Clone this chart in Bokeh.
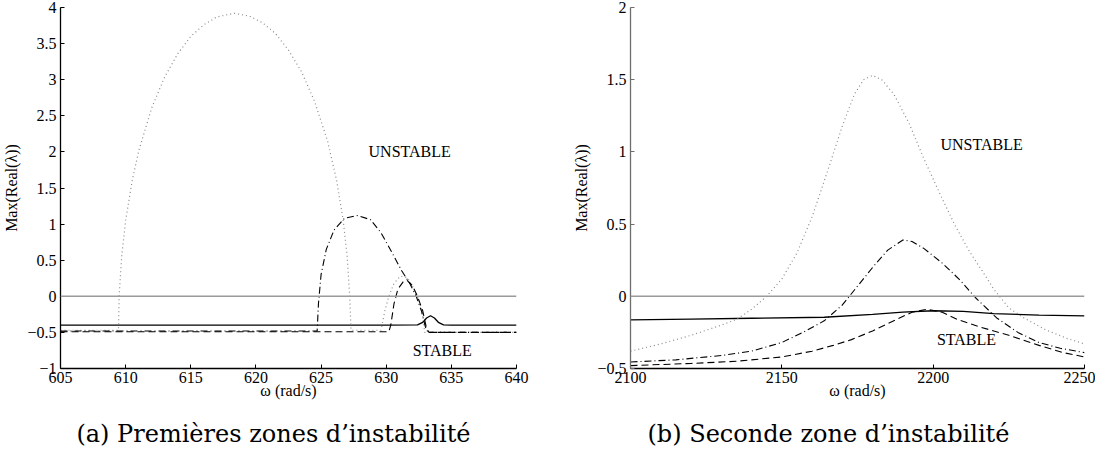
from bokeh.plotting import figure
from bokeh.models import FixedTicker, Label, Span
from bokeh.layouts import row, column
from bokeh.embed import file_html
from bokeh.resources import INLINE

# ---------------- data: panel (a) ----------------
a_solid_x = [605, 610, 615, 620, 625, 630, 632.4, 632.8, 633.1, 633.4, 633.7, 634.0, 634.4, 635, 640]
a_solid_y = [-0.40, -0.40, -0.40, -0.40, -0.40, -0.40, -0.395, -0.36, -0.30, -0.27, -0.30, -0.36, -0.395, -0.40, -0.40]

a_dot_x = [605, 609.45, 609.5, 609.7, 610.0, 610.5, 611, 612, 613, 614, 615, 616, 617, 618.35,
           619.5, 620.5, 621.5, 622.5, 623.5, 624.5, 625.5, 626.2, 626.7, 627.0, 627.2, 627.3,
           629.6, 629.9, 630.2, 630.6, 631.1, 631.6, 632.1, 632.5, 632.8, 632.95, 640]
a_dot_y = [-0.47, -0.47, 0.0, 0.56, 1.05, 1.60, 2.01, 2.61, 3.04, 3.36, 3.60, 3.76, 3.87, 3.92,
           3.88, 3.79, 3.64, 3.41, 3.11, 2.70, 2.15, 1.60, 1.05, 0.56, 0.0, -0.47,
           -0.47, -0.2, 0.0, 0.18, 0.28, 0.26, 0.12, -0.05, -0.25, -0.5, -0.5]

a_dashdot_x = [605, 624.7, 624.8, 625.0, 625.4, 626.0, 626.8, 627.8, 628.8, 629.6, 630.4, 631.2,
               631.8, 632.3, 632.7, 633.0, 633.2, 640]
a_dashdot_y = [-0.48, -0.48, -0.1, 0.3, 0.65, 0.92, 1.08, 1.12, 1.06, 0.88, 0.62, 0.35,
               0.18, 0.0, -0.2, -0.42, -0.5, -0.5]

a_dash_x = [605, 630.2, 630.35, 630.6, 630.9, 631.3, 631.6, 632.0, 632.4, 632.8, 633.1, 633.3, 640]
a_dash_y = [-0.49, -0.49, -0.4, -0.1, 0.1, 0.2, 0.22, 0.15, 0.0, -0.2, -0.45, -0.5, -0.5]

a_xticks = [605, 610, 615, 620, 625, 630, 635, 640]
a_yticks = [-1, -0.5, 0, 0.5, 1, 1.5, 2, 2.5, 3, 3.5, 4]

# ---------------- data: panel (b) ----------------
b_solid_x = [2100, 2120, 2140, 2164, 2180, 2190, 2200, 2210, 2220, 2235, 2250]
b_solid_y = [-0.163, -0.158, -0.152, -0.145, -0.125, -0.11, -0.10, -0.105, -0.12, -0.13, -0.135]

b_dot_x = [2100, 2110, 2120, 2130, 2135, 2140, 2145, 2150, 2155, 2160, 2165, 2170, 2174, 2177,
           2180, 2183, 2187, 2192, 2197, 2202, 2207, 2212, 2217, 2220, 2225, 2230, 2237, 2244, 2250]
b_dot_y = [-0.38, -0.33, -0.27, -0.20, -0.16, -0.09, 0.0, 0.12, 0.30, 0.55, 0.86, 1.18, 1.40, 1.50,
           1.53, 1.50, 1.40, 1.20, 0.95, 0.72, 0.50, 0.31, 0.15, 0.05, -0.08, -0.15, -0.23, -0.29, -0.33]

b_dashdot_x = [2100, 2115, 2130, 2140, 2150, 2157, 2164, 2170, 2175, 2180, 2185, 2190, 2193, 2197,
               2203, 2209, 2214, 2221, 2228, 2235, 2242, 2250]
b_dashdot_y = [-0.455, -0.44, -0.41, -0.38, -0.32, -0.25, -0.17, -0.06, 0.07, 0.20, 0.32, 0.39, 0.38, 0.33,
               0.23, 0.11, -0.01, -0.15, -0.25, -0.32, -0.36, -0.39]

b_dash_x = [2100, 2120, 2135, 2150, 2160, 2167, 2173, 2180, 2188, 2193, 2198, 2203, 2208, 2215,
            2225, 2235, 2243, 2250]
b_dash_y = [-0.48, -0.465, -0.45, -0.42, -0.38, -0.34, -0.30, -0.24, -0.16, -0.11, -0.09, -0.11, -0.16, -0.21,
            -0.27, -0.34, -0.39, -0.42]

b_xticks = [2100, 2150, 2200, 2250]
b_yticks = [-0.5, 0, 0.5, 1, 1.5, 2]

captions = ["(a) Premi\u00e8res zones d\u2019instabilit\u00e9", "(b) Seconde zone d\u2019instabilit\u00e9"]

TICK_FONT = "Liberation Serif"
CAP_FONT = "DejaVu Serif"
MAIN_H = 404
CAP_H = 46


def make_panel(xr, yr, xticks, yticks, width, border_left, yaxis_color,
               solid, dot, dashdot, dash, unstable_xy, stable_xy):
    p = figure(width=width, height=MAIN_H, x_range=xr, y_range=yr,
               output_backend="svg", toolbar_location=None,
               min_border_left=border_left, min_border_right=width - border_left - 459,
               min_border_top=7, min_border_bottom=MAIN_H - 7 - 361)
    p.outline_line_color = None
    p.xgrid.visible = False
    p.ygrid.visible = False
    p.background_fill_color = "white"
    p.border_fill_color = "white"

    for ax in (p.xaxis[0], p.yaxis[0]):
        ax.major_tick_in = 4
        ax.major_tick_out = 0
        ax.minor_tick_line_color = None
        ax.major_label_text_font = TICK_FONT
        ax.major_label_text_font_size = "16px"
        ax.major_label_text_color = "black"
        ax.axis_label_text_font = TICK_FONT
        ax.axis_label_text_font_size = "16px"
        ax.axis_label_text_font_style = "normal"
        ax.axis_label_text_color = "black"
        ax.axis_line_width = 1.3
        ax.major_tick_line_width = 1

    p.xaxis.ticker = FixedTicker(ticks=xticks)
    p.yaxis.ticker = FixedTicker(ticks=yticks)
    p.yaxis.major_label_overrides = {t: (("\u2212" + f"{abs(t):g}") if t < 0 else f"{t:g}") for t in yticks}
    p.xaxis.axis_label = "\u03c9 (rad/s)"
    p.yaxis.axis_label = "Max(Real(\u03bb))"
    p.xaxis.major_label_standoff = 3
    p.xaxis.axis_label_standoff = -4
    p.yaxis.major_label_standoff = 4
    p.yaxis.axis_label_standoff = 4
    p.xaxis.axis_line_color = "black"
    p.xaxis.major_tick_line_color = "black"
    p.yaxis.axis_line_color = yaxis_color
    p.yaxis.major_tick_line_color = yaxis_color

    # zero line
    p.add_layout(Span(location=0, dimension="width", line_color="#9a9a9a", line_width=1.5))

    p.line(solid[0], solid[1], line_color="black", line_width=1.3)
    p.line(dot[0], dot[1], line_color="#8a8a8a", line_width=1.2, line_dash="1 3")
    p.line(dashdot[0], dashdot[1], line_color="black", line_width=1.1, line_dash="7 3 1 3")
    p.line(dash[0], dash[1], line_color="black", line_width=1.1, line_dash="7 4")

    p.add_layout(Label(x=unstable_xy[0], y=unstable_xy[1], text="UNSTABLE", text_font=TICK_FONT,
                       text_font_size="16px", text_align="center", text_baseline="middle",
                       text_color="black"))
    p.add_layout(Label(x=stable_xy[0], y=stable_xy[1], text="STABLE", text_font=TICK_FONT,
                       text_font_size="16px", text_align="center", text_baseline="middle",
                       text_color="black"))
    return p


def make_caption(width, text, x, align):
    c = figure(width=width, height=CAP_H, x_range=(0, width), y_range=(0, CAP_H),
               x_axis_type=None, y_axis_type=None,
               output_backend="svg", toolbar_location=None,
               min_border_left=0, min_border_right=0, min_border_top=0, min_border_bottom=0)
    c.xgrid.visible = False
    c.ygrid.visible = False
    c.outline_line_color = None
    c.add_layout(Label(x=x, y=17, text=text, text_font=CAP_FONT, text_font_size="24px",
                       text_align=align, text_baseline="middle", text_color="black"))
    return c


pa = make_panel((605, 640), (-1, 4), a_xticks, a_yticks, 570, 57, "black",
                (a_solid_x, a_solid_y), (a_dot_x, a_dot_y), (a_dashdot_x, a_dashdot_y),
                (a_dash_x, a_dash_y), (631.8, 2.0), (634.3, -0.75))
pb = make_panel((2100, 2250), (-0.5, 2), b_xticks, b_yticks, 525, 55, "#6e6e6e",
                (b_solid_x, b_solid_y), (b_dot_x, b_dot_y), (b_dashdot_x, b_dashdot_y),
                (b_dash_x, b_dash_y), (2216, 1.05), (2211, -0.3))

ca = make_caption(570, captions[0], 470, "right")
cb = make_caption(525, captions[1], 77, "left")

layout = column(row(pa, pb), row(ca, cb))
open("out.html", "w").write(file_html(layout, INLINE))
